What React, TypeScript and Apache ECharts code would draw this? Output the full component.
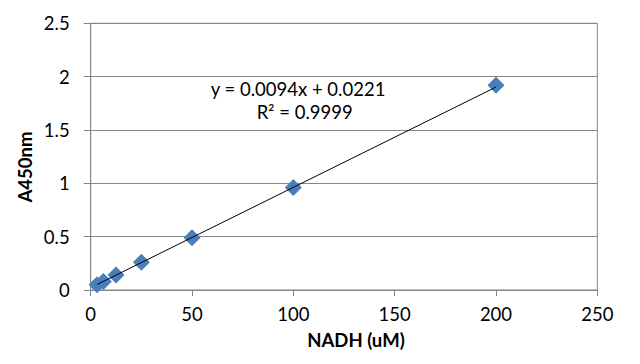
import React, { useEffect, useRef } from "react";
import * as echarts from "echarts";

const concentrations = [3.125, 6.25, 12.5, 25, 50, 100, 200];
const absorbance = [0.05, 0.08, 0.14, 0.26, 0.49, 0.96, 1.92];
const slope = 0.0094;
const intercept = 0.0221;
const equationText = "y = 0.0094x + 0.0221";
const r2Text = "R² = 0.9999";
const xTitle = "NADH (uM)";
const yTitle = "A450nm";

const FONT = "Lato";
const GRAY = "#868686";

export default function App() {
  const ref = useRef<HTMLDivElement>(null);
  useEffect(() => {
    if (!ref.current) return;
    const chart = echarts.init(ref.current, undefined, { renderer: "svg" });
    const x0 = concentrations[0];
    const x1 = concentrations[concentrations.length - 1];
    chart.setOption({
      animation: false,
      grid: {
        left: 90.7,
        right: 42.7,
        top: 23.3,
        bottom: 74,
        show: true,
        borderColor: GRAY,
        borderWidth: 1,
      },
      xAxis: {
        type: "value",
        min: 0,
        max: 250,
        interval: 50,
        axisLine: { show: true, lineStyle: { color: GRAY, width: 1 } },
        axisTick: { show: true, length: 6, lineStyle: { color: GRAY } },
        splitLine: { show: false },
        axisLabel: { color: "#000", fontFamily: FONT, fontSize: 18.5, margin: 14 },
      },
      yAxis: {
        type: "value",
        min: 0,
        max: 2.5,
        interval: 0.5,
        axisLine: { show: true, lineStyle: { color: GRAY, width: 1 } },
        axisTick: { show: true, length: 7, lineStyle: { color: GRAY } },
        splitLine: { show: true, lineStyle: { color: GRAY, width: 1 } },
        axisLabel: { color: "#000", fontFamily: FONT, fontSize: 18.5, margin: 21 },
      },
      series: [
        {
          type: "line",
          data: [
            [x0, slope * x0 + intercept],
            [x1, slope * x1 + intercept],
          ],
          showSymbol: false,
          symbol: "none",
          lineStyle: { color: "#000", width: 1 },
          silent: true,
          z: 3,
        },
        {
          type: "scatter",
          data: concentrations.map((c, i) => [c, absorbance[i]]),
          symbol: "diamond",
          symbolSize: 17,
          itemStyle: { color: "#4A7EBB", opacity: 1 },
          z: 2,
        },
      ],
      graphic: [
        {
          type: "text",
          x: 298,
          y: 89,
          style: {
            text: equationText,
            fontFamily: FONT,
            fontSize: 18.5,
            fill: "#000",
            align: "center",
            verticalAlign: "middle",
          },
        },
        {
          type: "text",
          x: 304.7,
          y: 112,
          style: {
            text: r2Text,
            fontFamily: FONT,
            fontSize: 18.5,
            fill: "#000",
            align: "center",
            verticalAlign: "middle",
          },
        },
        {
          type: "text",
          x: 356,
          y: 340,
          style: {
            text: xTitle,
            fontFamily: FONT,
            fontSize: 18.5,
            fontWeight: "bold",
            fill: "#000",
            align: "center",
            verticalAlign: "middle",
          },
        },
        {
          type: "text",
          x: 24.5,
          y: 167,
          rotation: Math.PI / 2,
          style: {
            text: yTitle,
            fontFamily: FONT,
            fontSize: 18.5,
            fontWeight: "bold",
            fill: "#000",
            align: "center",
            verticalAlign: "middle",
          },
        },
      ],
    });
    return () => chart.dispose();
  }, []);
  return <div ref={ref} style={{ width: 640, height: 364, position: "absolute", left: 0, top: 0 }} />;
}
